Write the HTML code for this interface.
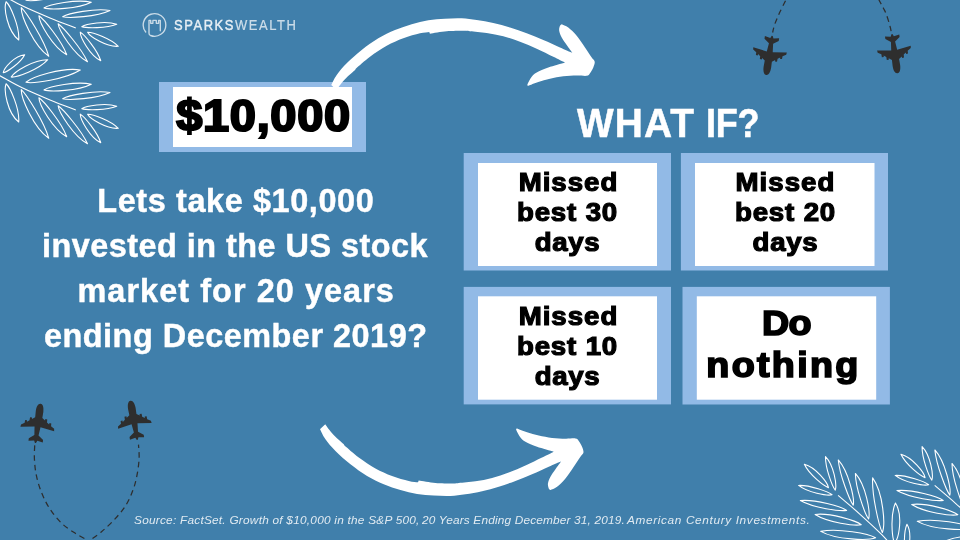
<!DOCTYPE html>
<html lang="en">
<head>
<meta charset="utf-8">
<title>What if? - $10,000 invested in the US stock market</title>
<style>

html,body{margin:0;padding:0;background:#407fab;}
body{width:960px;height:540px;overflow:hidden;}
.slide{position:relative;width:960px;height:540px;overflow:hidden;background:#407fab;
  font-family:"Liberation Sans",sans-serif;font-weight:bold;}
.art{position:absolute;left:0;top:0;display:block;pointer-events:none;}
.logo{position:absolute;left:0;top:0;width:320px;height:50px;}
.logo .mark{position:absolute;left:140.5px;top:11.4px;opacity:.72;}
.logo .brand{position:absolute;top:16.3px;font:normal 15.1px/18px "Liberation Sans",sans-serif;
  color:rgba(255,255,255,.72);-webkit-text-stroke:0.15px rgba(255,255,255,.72);white-space:nowrap;transform:scaleX(.86);transform-origin:0 50%;}
.logo .brand b{font-weight:normal;color:rgba(255,255,255,.84);-webkit-text-stroke:0.4px rgba(255,255,255,.84);}
.amount,.card{position:absolute;}
.amount .inner,.card .inner{position:absolute;color:#000;text-align:center;white-space:nowrap;}
.amount{left:159px;top:82px;width:207px;height:70px;}
.amount .inner{left:14px;top:5px;width:179px;height:60px;}
.amount .t{display:block;position:relative;top:2px;font-size:43.5px;line-height:54px;-webkit-text-stroke:2.1px #000;transform:scaleX(1.08);}
.lead{position:absolute;margin:0;left:0;top:178.6px;width:471.4px;text-align:center;color:#fff;
  font-size:32.4px;line-height:45px;-webkit-text-stroke:0.45px #fff;white-space:nowrap;}
.lead span{display:block;position:relative;}
.title{position:absolute;margin:0;left:567px;top:100px;width:200px;height:46px;color:#fff;
  font-size:40.1px;line-height:46px;-webkit-text-stroke:0.5px #fff;white-space:nowrap;}
.title span{position:absolute;top:0;transform-origin:0 50%;}
.title .w1{transform:scaleX(.97);}
.title .w2{transform:scaleX(.9);}
.card{width:207px;height:117px;}
.card .inner{left:14px;top:10px;width:179px;height:103px;}
.card .t{position:absolute;left:0;right:0;top:5.2px;font-size:26.1px;line-height:29.9px;-webkit-text-stroke:1.2px #000;}
.card .t span{display:block;position:relative;transform:scaleX(1.06);}
.card.big .t{top:4.6px;font-size:34.9px;line-height:42.15px;-webkit-text-stroke:1.7px #000;}
.card.big .t span{transform:scaleX(1.08);}
.c1{left:464px;top:153px;}
.c2{left:681px;top:153px;}
.c3{left:464px;top:287px;}
.c4{left:683px;top:287px;}
.source{position:absolute;left:0;top:512px;width:960px;height:16px;margin:0;color:rgba(255,255,255,.84);white-space:nowrap;
  font:italic normal 11.4px/16px "Liberation Sans",sans-serif;}
.source span{position:absolute;top:0;transform:scaleX(1.04);transform-origin:0 50%;}
.amount .t{letter-spacing:0.61px;left:0.71px;}
.c1 .a{letter-spacing:0.92px;left:1.19px;}
.c1 .b{letter-spacing:0.79px;left:0.29px;}
.c1 .c{letter-spacing:0.62px;left:0.27px;}
.c2 .a{letter-spacing:0.96px;left:0.85px;}
.c2 .b{letter-spacing:0.79px;left:0.99px;}
.c2 .c{letter-spacing:0.69px;left:0.75px;}
.c3 .a{letter-spacing:0.92px;left:1.19px;}
.c3 .b{letter-spacing:0.79px;left:0.29px;}
.c3 .c{letter-spacing:0.62px;left:0.27px;}
.c4 .a{letter-spacing:-0.52px;left:-0.21px;}
.c4 .b{letter-spacing:2.15px;left:-2.81px;}
.lead .l1{letter-spacing:0.62px;left:0.18px;}
.lead .l2{letter-spacing:0.48px;left:-0.69px;}
.lead .l3{letter-spacing:1.07px;left:0.51px;}
.lead .l4{letter-spacing:0.52px;left:0.03px;}
.title .w1{letter-spacing:1.11px;left:10.01px;}
.title .w2{letter-spacing:-0.37px;left:138.67px;}
.source .s1{letter-spacing:0.22px;left:134px;}
.source .s2{letter-spacing:0.16px;left:421.6px;}
.source .s3{letter-spacing:0.6px;left:626.8px;}
.logo .brand{letter-spacing:1.8px;left:173.5px;}

</style>
</head>
<body>
<main class="slide">
<svg class="art" width="960" height="540" viewBox="0 0 960 540" aria-hidden="true">
<g fill="none" stroke="#fff" stroke-width="1.1" stroke-linejoin="round">
<path d="M3.27,72.66C3.85,68.13 14.58,55.68 24.7,54.7C20.63,62.91 7.11,72.02 3.27,72.66ZM11.2,77.07C14.13,71.91 34.11,59.2 47.8,59.7C39.04,69.59 16.79,77.51 11.2,77.07ZM25.98,82.28C31.67,77.18 62.48,66.95 80.3,70C65.27,79.29 33.18,83.83 25.98,82.28ZM43.99,89.88C49.34,86.43 76.49,80.77 91.3,84.2C77.72,91.04 50,91.97 43.99,89.88ZM62.69,98.67C68.05,95.47 95.21,89.79 110,92.5C96.4,98.91 68.69,100.39 62.69,98.67ZM81.8,108.63C85.82,105.88 105.92,102.41 116.7,106.3C106.46,110.44 86.11,110.21 81.8,108.63ZM87.61,114.22C92.2,113.93 110.77,120.42 118.3,128.3C106.69,129.3 90,118.72 87.61,114.22ZM6.11,83.75C10.27,87.47 19.84,108.91 18.7,122C7.28,113.04 3.5,89.7 6.11,83.75ZM21.29,89.57C26.48,94.35 44.05,121.7 48.8,138.3C33.54,127.64 20.81,97.55 21.29,89.57ZM38.88,97.81C43.98,101.22 61.63,122.69 66.7,136.7C52.74,129.05 39.19,104.64 38.88,97.81ZM58.11,105.79C63.11,109.21 81.41,130.29 87.5,143.8C73.68,136.27 58.94,112.44 58.11,105.79ZM80.28,114.11C84.26,116.47 97.45,132.19 100.8,142.8C89.97,137.54 80.22,119.36 80.28,114.11ZM-14,68.5C-11.67,69.72 -5.95,72.62 0,75.8C5.95,78.98 13.37,83.57 21.7,87.6C30.03,91.63 40.98,96.27 50,100C59.02,103.73 71.5,108.33 75.8,110" transform="translate(0 -82)"/>
<path d="M3.27,72.66C3.85,68.13 14.58,55.68 24.7,54.7C20.63,62.91 7.11,72.02 3.27,72.66ZM11.2,77.07C14.13,71.91 34.11,59.2 47.8,59.7C39.04,69.59 16.79,77.51 11.2,77.07ZM25.98,82.28C31.67,77.18 62.48,66.95 80.3,70C65.27,79.29 33.18,83.83 25.98,82.28ZM43.99,89.88C49.34,86.43 76.49,80.77 91.3,84.2C77.72,91.04 50,91.97 43.99,89.88ZM62.69,98.67C68.05,95.47 95.21,89.79 110,92.5C96.4,98.91 68.69,100.39 62.69,98.67ZM81.8,108.63C85.82,105.88 105.92,102.41 116.7,106.3C106.46,110.44 86.11,110.21 81.8,108.63ZM87.61,114.22C92.2,113.93 110.77,120.42 118.3,128.3C106.69,129.3 90,118.72 87.61,114.22ZM6.11,83.75C10.27,87.47 19.84,108.91 18.7,122C7.28,113.04 3.5,89.7 6.11,83.75ZM21.29,89.57C26.48,94.35 44.05,121.7 48.8,138.3C33.54,127.64 20.81,97.55 21.29,89.57ZM38.88,97.81C43.98,101.22 61.63,122.69 66.7,136.7C52.74,129.05 39.19,104.64 38.88,97.81ZM58.11,105.79C63.11,109.21 81.41,130.29 87.5,143.8C73.68,136.27 58.94,112.44 58.11,105.79ZM80.28,114.11C84.26,116.47 97.45,132.19 100.8,142.8C89.97,137.54 80.22,119.36 80.28,114.11ZM-14,68.5C-11.67,69.72 -5.95,72.62 0,75.8C5.95,78.98 13.37,83.57 21.7,87.6C30.03,91.63 40.98,96.27 50,100C59.02,103.73 71.5,108.33 75.8,110"/>
<path d="M3.27,72.66C3.85,68.13 14.58,55.68 24.7,54.7C20.63,62.91 7.11,72.02 3.27,72.66ZM11.2,77.07C14.13,71.91 34.11,59.2 47.8,59.7C39.04,69.59 16.79,77.51 11.2,77.07ZM25.98,82.28C31.67,77.18 62.48,66.95 80.3,70C65.27,79.29 33.18,83.83 25.98,82.28ZM43.99,89.88C49.34,86.43 76.49,80.77 91.3,84.2C77.72,91.04 50,91.97 43.99,89.88ZM62.69,98.67C68.05,95.47 95.21,89.79 110,92.5C96.4,98.91 68.69,100.39 62.69,98.67ZM81.8,108.63C85.82,105.88 105.92,102.41 116.7,106.3C106.46,110.44 86.11,110.21 81.8,108.63ZM87.61,114.22C92.2,113.93 110.77,120.42 118.3,128.3C106.69,129.3 90,118.72 87.61,114.22ZM6.11,83.75C10.27,87.47 19.84,108.91 18.7,122C7.28,113.04 3.5,89.7 6.11,83.75ZM21.29,89.57C26.48,94.35 44.05,121.7 48.8,138.3C33.54,127.64 20.81,97.55 21.29,89.57ZM38.88,97.81C43.98,101.22 61.63,122.69 66.7,136.7C52.74,129.05 39.19,104.64 38.88,97.81ZM58.11,105.79C63.11,109.21 81.41,130.29 87.5,143.8C73.68,136.27 58.94,112.44 58.11,105.79ZM80.28,114.11C84.26,116.47 97.45,132.19 100.8,142.8C89.97,137.54 80.22,119.36 80.28,114.11ZM-14,68.5C-11.67,69.72 -5.95,72.62 0,75.8C5.95,78.98 13.37,83.57 21.7,87.6C30.03,91.63 40.98,96.27 50,100C59.02,103.73 71.5,108.33 75.8,110M-8.2,77.45C-5.37,80.28 1.25,96.13 0.6,105.6C-7.53,98.87 -10.1,81.76 -8.2,77.45Z" transform="matrix(-0.9351 -0.3291 0.3291 -0.9351 872.77 623.25)"/>
<path d="M3.27,72.66C3.85,68.13 14.58,55.68 24.7,54.7C20.63,62.91 7.11,72.02 3.27,72.66ZM11.2,77.07C14.13,71.91 34.11,59.2 47.8,59.7C39.04,69.59 16.79,77.51 11.2,77.07ZM25.98,82.28C31.67,77.18 62.48,66.95 80.3,70C65.27,79.29 33.18,83.83 25.98,82.28ZM43.99,89.88C49.34,86.43 76.49,80.77 91.3,84.2C77.72,91.04 50,91.97 43.99,89.88ZM62.69,98.67C68.05,95.47 95.21,89.79 110,92.5C96.4,98.91 68.69,100.39 62.69,98.67ZM81.8,108.63C85.82,105.88 105.92,102.41 116.7,106.3C106.46,110.44 86.11,110.21 81.8,108.63ZM87.61,114.22C92.2,113.93 110.77,120.42 118.3,128.3C106.69,129.3 90,118.72 87.61,114.22ZM6.11,83.75C10.27,87.47 19.84,108.91 18.7,122C7.28,113.04 3.5,89.7 6.11,83.75ZM21.29,89.57C26.48,94.35 44.05,121.7 48.8,138.3C33.54,127.64 20.81,97.55 21.29,89.57ZM38.88,97.81C43.98,101.22 61.63,122.69 66.7,136.7C52.74,129.05 39.19,104.64 38.88,97.81ZM58.11,105.79C63.11,109.21 81.41,130.29 87.5,143.8C73.68,136.27 58.94,112.44 58.11,105.79ZM80.28,114.11C84.26,116.47 97.45,132.19 100.8,142.8C89.97,137.54 80.22,119.36 80.28,114.11ZM-14,68.5C-11.67,69.72 -5.95,72.62 0,75.8C5.95,78.98 13.37,83.57 21.7,87.6C30.03,91.63 40.98,96.27 50,100C59.02,103.73 71.5,108.33 75.8,110M-8.2,77.45C-5.37,80.28 1.25,96.13 0.6,105.6C-7.53,98.87 -10.1,81.76 -8.2,77.45Z" transform="matrix(-0.9351 -0.3291 0.3291 -0.9351 969.37 613.25)"/>
</g>
<g fill="#2e2e2e">
<path d="M0,-19.8C2.5,-19.8 3.7,-16.5 3.8,-12L3.6,-5.8L6.6,-3.7L6.7,-5.2L8.7,-5.1L8.8,-2.1L11.2,-0.3L11.3,-1.8L13.2,-1.7L13.3,1.2L16.7,3.3L17,5.6L3,3.6L2.1,12L7.2,15.8L7.2,18.4L1.6,17.4L0.5,19.8L-0.5,19.8L-1.6,17.4L-7.2,18.4L-7.2,15.8L-2.1,12L-3,3.6L-17,5.6L-16.7,3.3L-13.3,1.2L-13.2,-1.7L-11.3,-1.8L-11.2,-0.3L-8.8,-2.1L-8.7,-5.1L-6.7,-5.2L-6.6,-3.7L-3.6,-5.8L-3.8,-12C-3.7,-16.5 -2.5,-19.8 0,-19.8Z" transform="translate(38 423.4) rotate(7.45)"/>
<path d="M0,-19.8C2.5,-19.8 3.7,-16.5 3.8,-12L3.6,-5.8L6.6,-3.7L6.7,-5.2L8.7,-5.1L8.8,-2.1L11.2,-0.3L11.3,-1.8L13.2,-1.7L13.3,1.2L16.7,3.3L17,5.6L3,3.6L2.1,12L7.2,15.8L7.2,18.4L1.6,17.4L0.5,19.8L-0.5,19.8L-1.6,17.4L-7.2,18.4L-7.2,15.8L-2.1,12L-3,3.6L-17,5.6L-16.7,3.3L-13.3,1.2L-13.2,-1.7L-11.3,-1.8L-11.2,-0.3L-8.8,-2.1L-8.7,-5.1L-6.7,-5.2L-6.6,-3.7L-3.6,-5.8L-3.8,-12C-3.7,-16.5 -2.5,-19.8 0,-19.8Z" transform="translate(133.9 420.3) rotate(-9.9)"/>
<path d="M0,-19.8C2.5,-19.8 3.7,-16.5 3.8,-12L3.6,-5.8L6.6,-3.7L6.7,-5.2L8.7,-5.1L8.8,-2.1L11.2,-0.3L11.3,-1.8L13.2,-1.7L13.3,1.2L16.7,3.3L17,5.6L3,3.6L2.1,12L7.2,15.8L7.2,18.4L1.6,17.4L0.5,19.8L-0.5,19.8L-1.6,17.4L-7.2,18.4L-7.2,15.8L-2.1,12L-3,3.6L-17,5.6L-16.7,3.3L-13.3,1.2L-13.2,-1.7L-11.3,-1.8L-11.2,-0.3L-8.8,-2.1L-8.7,-5.1L-6.7,-5.2L-6.6,-3.7L-3.6,-5.8L-3.8,-12C-3.7,-16.5 -2.5,-19.8 0,-19.8Z" transform="translate(769.2 55.4) rotate(188.8)"/>
<path d="M0,-19.8C2.5,-19.8 3.7,-16.5 3.8,-12L3.6,-5.8L6.6,-3.7L6.7,-5.2L8.7,-5.1L8.8,-2.1L11.2,-0.3L11.3,-1.8L13.2,-1.7L13.3,1.2L16.7,3.3L17,5.6L3,3.6L2.1,12L7.2,15.8L7.2,18.4L1.6,17.4L0.5,19.8L-0.5,19.8L-1.6,17.4L-7.2,18.4L-7.2,15.8L-2.1,12L-3,3.6L-17,5.6L-16.7,3.3L-13.3,1.2L-13.2,-1.7L-11.3,-1.8L-11.2,-0.3L-8.8,-2.1L-8.7,-5.1L-6.7,-5.2L-6.6,-3.7L-3.6,-5.8L-3.8,-12C-3.7,-16.5 -2.5,-19.8 0,-19.8Z" transform="translate(894.7 53.7) rotate(171.95)"/>
</g>
<g fill="none" stroke="#2e2e2e" stroke-width="1.25" stroke-dasharray="5.6 4.1">
<path d="M34.8,443.7C34.73,446.17 34.15,453.25 34.4,458.5C34.65,463.75 35.15,469.63 36.3,475.2C37.45,480.77 39.08,486.35 41.3,491.9C43.52,497.45 46.2,503.27 49.6,508.5C53,513.73 57.37,519.13 61.7,523.3C66.03,527.47 71.05,530.55 75.6,533.5C80.15,536.45 86.77,539.75 89,541" stroke-dashoffset="7.9"/><path d="M138.5,444.6C138.6,446.92 139.35,453.4 139.1,458.5C138.85,463.6 138.02,469.95 137,475.2C135.98,480.45 134.9,484.92 133,490C131.1,495.08 128.7,500.77 125.6,505.7C122.5,510.63 118.42,515.27 114.4,519.6C110.38,523.93 105.73,528.13 101.5,531.7C97.27,535.27 91.08,539.45 89,541" stroke-dashoffset="2.1"/>
<path d="M772.6,32.5C772.95,31.15 773.57,27.63 774.7,24.4C775.83,21.17 777.53,17.17 779.4,13.1C781.27,9.03 784.13,3.52 785.9,0C787.67,-3.52 789.32,-6.67 790,-8" stroke-dashoffset="0.45"/><path d="M891.2,31.5C891.03,30.75 890.67,28.82 890.2,27C889.73,25.18 889.13,22.93 888.4,20.6C887.67,18.27 886.65,15.1 885.8,13C884.95,10.9 884.43,10.17 883.3,8C882.17,5.83 880.47,2.67 879,0C877.53,-2.67 875.25,-6.67 874.5,-8" stroke-dashoffset="9.3"/>
</g>
<rect x="159" y="82" width="207" height="70" fill="#92bae6"/><rect x="173" y="87" width="179" height="60" fill="#fff"/>
<rect x="463.7" y="153" width="207.3" height="117.5" fill="#92bae6"/><rect x="478" y="163" width="179" height="103" fill="#fff"/>
<rect x="680.9" y="153" width="207.1" height="117.5" fill="#92bae6"/><rect x="695" y="163" width="179.5" height="103" fill="#fff"/>
<rect x="463.7" y="286.9" width="207.3" height="117.5" fill="#92bae6"/><rect x="478" y="296.3" width="179" height="103.4" fill="#fff"/>
<rect x="682.5" y="286.9" width="207.4" height="117.6" fill="#92bae6"/><rect x="696.8" y="296.3" width="179.4" height="103.4" fill="#fff"/>
</svg>
<header class="logo">
<svg class="mark" width="28" height="28" viewBox="0 0 28 28" aria-hidden="true"><g fill="none" stroke="#fff" stroke-width="1.35" stroke-linecap="round" stroke-linejoin="round"><path d="M4.7,21.0A11.3,11.3 0 1 1 9.5,24.5C8.6,24.1 8,23.4 8,22.2V9.4H9.7V12.3H11.9V9.4H15.3V12.3H17.6V9.4H19.3V19.8"/></g></svg>
<span class="brand"><b>SPARKS</b>WEALTH</span>
</header>
<section class="amount"><div class="inner"><span class="t">$10,000</span></div></section>
<p class="lead"><span class="l1">Lets take $10,000</span> <span class="l2">invested in the US stock</span> <span class="l3">market for 20 years</span> <span class="l4">ending December 2019?</span></p>
<svg class="art top" width="960" height="540" viewBox="0 0 960 540" aria-hidden="true"><path fill="#fff" d="M336.5,90C335.63,89.17 332.17,85.83 331.3,85C332.2,83.33 334.13,78.62 336.7,75C339.27,71.38 342.53,67.47 346.7,63.3C350.87,59.13 356.43,54.17 361.7,50C366.97,45.83 372.75,41.63 378.3,38.3C383.85,34.97 389.43,32.35 395,30C400.57,27.65 406.15,25.82 411.7,24.2C417.25,22.58 422.75,21.22 428.3,20.3C433.85,19.38 439.43,19.03 445,18.7C450.57,18.37 456.42,18.08 461.7,18.3C466.98,18.52 471.43,19.22 476.7,20C481.97,20.78 487.75,21.75 493.3,23C498.85,24.25 504.43,25.78 510,27.5C515.57,29.22 521.15,31.22 526.7,33.3C532.25,35.38 537.75,37.63 543.3,40C548.85,42.37 555.13,45.33 560,47.5C564.87,49.67 570.42,52.08 572.5,53C571.53,51.67 568.5,47.58 566.7,45C564.9,42.42 562.95,39.87 561.7,37.5C560.45,35.13 559.48,32.75 559.2,30.8C558.92,28.85 559.58,26.9 560,25.8C560.42,24.7 561.42,24.47 561.7,24.2C562.8,24.75 565.8,25.57 568.3,27.5C570.8,29.43 573.92,32.47 576.7,35.8C579.48,39.13 582.5,43.88 585,47.5C587.5,51.12 590.08,55.13 591.7,57.5C593.32,59.87 594.43,60.03 594.7,61.7C594.97,63.37 594.08,65.57 593.3,67.5C592.52,69.43 591.1,71.92 590,73.3C588.9,74.68 588.92,75.43 586.7,75.8C584.48,76.17 580.6,75.42 576.7,75.5C572.8,75.58 567.75,75.77 563.3,76.3C558.85,76.83 554.17,77.75 550,78.7C545.83,79.65 541.92,80.82 538.3,82C534.68,83.18 529.97,85.17 528.3,85.8C528.17,85.53 526.93,85.72 527.5,84.2C528.07,82.68 530.17,78.65 531.7,76.7C533.23,74.75 533.93,74.03 536.7,72.5C539.47,70.97 543.58,69.17 548.3,67.5C553.02,65.83 562.22,63.33 565,62.5C563.05,61.53 558.02,59 553.3,56.7C548.58,54.4 542.25,51.2 536.7,48.7C531.15,46.2 525.57,43.77 520,41.7C514.43,39.63 508.85,37.75 503.3,36.3C497.75,34.85 492.25,33.83 486.7,33C481.15,32.17 473.9,31.67 470,31.3C466.1,30.93 467.18,30.8 463.3,30.8C459.42,30.8 452.25,30.82 446.7,31.3C441.15,31.78 432.78,33.3 430,33.7C429.87,33.4 429.33,32.2 429.2,31.9C427.67,32.13 424.32,32.23 420,33.3C415.68,34.37 408.85,36.22 403.3,38.3C397.75,40.38 392.25,42.73 386.7,45.8C381.15,48.87 375.12,52.93 370,56.7C364.88,60.47 358.33,66.45 356,68.4C355.8,68.7 355,69.9 354.8,70.2C353.45,71.42 349.08,75.12 346.7,77.5C344.32,79.88 342.2,82.42 340.5,84.5C338.8,86.58 337.17,89.08 336.5,90Z"/><path fill="#fff" transform="translate(-11.25 514.2) scale(1 -1)" d="M336.5,90C335.63,89.17 332.17,85.83 331.3,85C332.2,83.33 334.13,78.62 336.7,75C339.27,71.38 342.53,67.47 346.7,63.3C350.87,59.13 356.43,54.17 361.7,50C366.97,45.83 372.75,41.63 378.3,38.3C383.85,34.97 389.43,32.35 395,30C400.57,27.65 406.15,25.82 411.7,24.2C417.25,22.58 422.75,21.22 428.3,20.3C433.85,19.38 439.43,19.03 445,18.7C450.57,18.37 456.42,18.08 461.7,18.3C466.98,18.52 471.43,19.22 476.7,20C481.97,20.78 487.75,21.75 493.3,23C498.85,24.25 504.43,25.78 510,27.5C515.57,29.22 521.15,31.22 526.7,33.3C532.25,35.38 537.75,37.63 543.3,40C548.85,42.37 555.13,45.33 560,47.5C564.87,49.67 570.42,52.08 572.5,53C571.53,51.67 568.5,47.58 566.7,45C564.9,42.42 562.95,39.87 561.7,37.5C560.45,35.13 559.48,32.75 559.2,30.8C558.92,28.85 559.58,26.9 560,25.8C560.42,24.7 561.42,24.47 561.7,24.2C562.8,24.75 565.8,25.57 568.3,27.5C570.8,29.43 573.92,32.47 576.7,35.8C579.48,39.13 582.5,43.88 585,47.5C587.5,51.12 590.08,55.13 591.7,57.5C593.32,59.87 594.43,60.03 594.7,61.7C594.97,63.37 594.08,65.57 593.3,67.5C592.52,69.43 591.1,71.92 590,73.3C588.9,74.68 588.92,75.43 586.7,75.8C584.48,76.17 580.6,75.42 576.7,75.5C572.8,75.58 567.75,75.77 563.3,76.3C558.85,76.83 554.17,77.75 550,78.7C545.83,79.65 541.92,80.82 538.3,82C534.68,83.18 529.97,85.17 528.3,85.8C528.17,85.53 526.93,85.72 527.5,84.2C528.07,82.68 530.17,78.65 531.7,76.7C533.23,74.75 533.93,74.03 536.7,72.5C539.47,70.97 543.58,69.17 548.3,67.5C553.02,65.83 562.22,63.33 565,62.5C563.05,61.53 558.02,59 553.3,56.7C548.58,54.4 542.25,51.2 536.7,48.7C531.15,46.2 525.57,43.77 520,41.7C514.43,39.63 508.85,37.75 503.3,36.3C497.75,34.85 492.25,33.83 486.7,33C481.15,32.17 473.9,31.67 470,31.3C466.1,30.93 467.18,30.8 463.3,30.8C459.42,30.8 452.25,30.82 446.7,31.3C441.15,31.78 432.78,33.3 430,33.7C429.87,33.4 429.33,32.2 429.2,31.9C427.67,32.13 424.32,32.23 420,33.3C415.68,34.37 408.85,36.22 403.3,38.3C397.75,40.38 392.25,42.73 386.7,45.8C381.15,48.87 375.12,52.93 370,56.7C364.88,60.47 358.33,66.45 356,68.4C355.8,68.7 355,69.9 354.8,70.2C353.45,71.42 349.08,75.12 346.7,77.5C344.32,79.88 342.2,82.42 340.5,84.5C338.8,86.58 337.17,89.08 336.5,90Z"/></svg>
<h1 class="title"><span class="w1">WHAT</span> <span class="w2">IF?</span></h1>
<section class="card c1"><div class="inner"><span class="t"><span class="a">Missed</span> <span class="b">best 30</span> <span class="c">days</span></span></div></section>
<section class="card c2"><div class="inner"><span class="t"><span class="a">Missed</span> <span class="b">best 20</span> <span class="c">days</span></span></div></section>
<section class="card c3"><div class="inner"><span class="t"><span class="a">Missed</span> <span class="b">best 10</span> <span class="c">days</span></span></div></section>
<section class="card c4 big"><div class="inner"><span class="t"><span class="a">Do</span> <span class="b">nothing</span></span></div></section>
<footer class="source"><span class="s1">Source: FactSet. Growth of $10,000 in the S&amp;P 500,</span> <span class="s2">20 Years Ending December 31, 2019.</span> <span class="s3">American Century Investments.</span></footer>
</main>
</body>
</html>
